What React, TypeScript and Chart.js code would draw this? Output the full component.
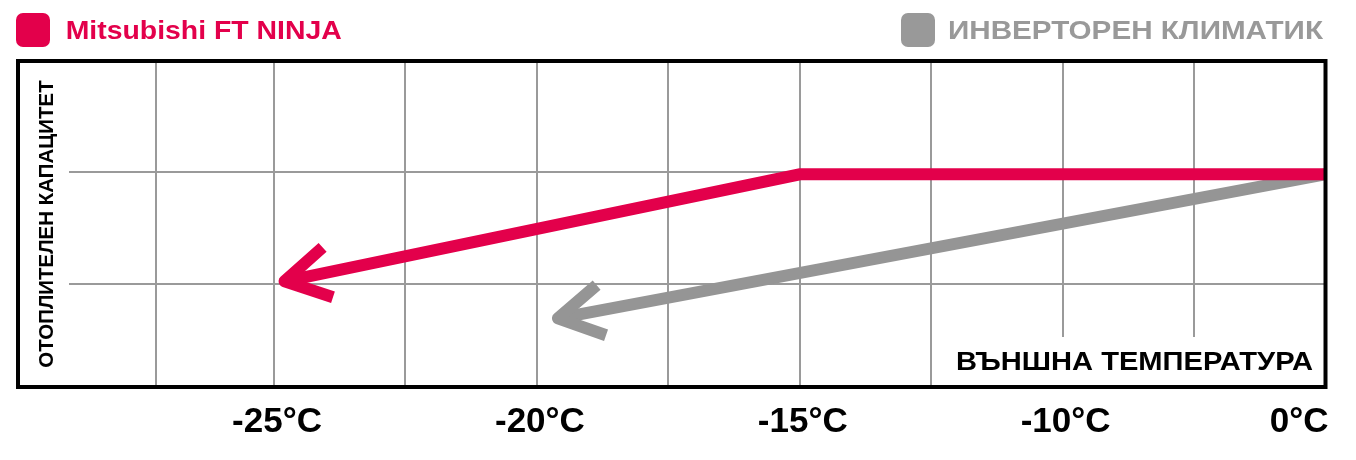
import React, { useEffect, useRef } from 'react';
import { Chart, registerables } from 'chart.js';

Chart.register(...registerables);

// ---- data ----
const SERIES_NAMES = ['Mitsubishi FT NINJA', 'ИНВЕРТОРЕН КЛИМАТИК'];
const MITSUBISHI_TEMPS = [0, -15, -24.8];
const MITSUBISHI_CAPACITY = [99, 99, 51];
const INVERTER_TEMPS = [0, -19.6];
const INVERTER_CAPACITY = [99, 34.4];

const X_TICK_TEMPS = [-25, -20, -15, -10, 0];
const X_TICK_LABELS = ['-25°C', '-20°C', '-15°C', '-10°C', '0°C'];
const X_GRID_TEMPS = [-27.25, -25, -22.5, -20, -17.5, -15, -12.5, -10, -5, 0];
const X_MIN_TEMP = -29.87;
const X_MAX_TEMP = 0;
const Y_GRID = [50, 100];
const Y_MIN = 3.6;
const Y_MAX = 149.8;

const Y_TITLE = 'ОТОПЛИТЕЛЕН КАПАЦИТЕТ';
const X_TITLE = 'ВЪНШНА ТЕМПЕРАТУРА';

const PINK = '#E3004B';
const GRAY = '#959595';
const LEGEND_GRAY = '#999999';
const GRID = '#9a9a9a';
const FONT = "'Liberation Sans', Arial, Helvetica, sans-serif";

// the schematic axis: the -10..0 °C stretch is drawn at half scale
const toAxis = (t: number) => (t >= -10 ? -10 + (t + 10) / 2 : t);

const tickLabel = (v: number) => {
  const i = X_TICK_TEMPS.findIndex((t) => Math.abs(toAxis(t) - v) < 1e-6);
  return i >= 0 ? X_TICK_LABELS[i] : '';
};

// draws text in a bold face widened horizontally to a target width
function drawWide(ctx: any, text: string, x: number, y: number, align: 'left' | 'right', size: number, width: number) {
  ctx.save();
  ctx.font = `bold ${size}px ${FONT}`;
  ctx.textBaseline = 'alphabetic';
  ctx.textAlign = 'left';
  const w = ctx.measureText(text).width;
  const k = width / w;
  const x0 = align === 'left' ? x : x - width;
  ctx.translate(x0, y);
  ctx.scale(k, 1);
  ctx.fillText(text, 0, 0);
  ctx.restore();
}

const decorPlugin = {
  id: 'decor',
  beforeDatasetsDraw(chart: any) {
    const { ctx, chartArea: a } = chart;
    ctx.save();
    ctx.fillStyle = '#fff';
    ctx.fillRect(a.left, a.top, 51, a.bottom - a.top);
    ctx.fillStyle = '#000';
    ctx.font = `bold 20.5px ${FONT}`;
    ctx.textAlign = 'center';
    ctx.textBaseline = 'middle';
    ctx.translate(a.left + 29.5, (a.top + a.bottom) / 2);
    ctx.rotate(-Math.PI / 2);
    ctx.fillText(Y_TITLE, 0, 0);
    ctx.restore();

    ctx.save();
    ctx.fillStyle = '#fff';
    ctx.fillRect(a.right - 380, a.bottom - 50, 380, 50);
    ctx.fillStyle = '#000';
    drawWide(ctx, X_TITLE, a.right - 12.5, a.bottom - 17, 'right', 26, 357);
    ctx.restore();
  },
  afterDatasetsDraw(chart: any) {
    const { ctx, chartArea: a } = chart;
    const n = chart.data.datasets.length;
    for (let i = n - 1; i >= 0; i--) {
      const meta = chart.getDatasetMeta(i);
      const pts = meta.data;
      if (pts.length < 2) continue;
      const tip = pts[pts.length - 1];
      const prev = pts[pts.length - 2];
      const ang = Math.atan2(prev.y - tip.y, prev.x - tip.x);
      const L = 51;
      const th = Math.PI / 6;
      ctx.save();
      ctx.strokeStyle = chart.data.datasets[i].borderColor;
      ctx.lineWidth = 12;
      ctx.lineJoin = 'round';
      ctx.lineCap = 'butt';
      ctx.beginPath();
      ctx.moveTo(tip.x + L * Math.cos(ang - th), tip.y + L * Math.sin(ang - th));
      ctx.lineTo(tip.x, tip.y);
      ctx.lineTo(tip.x + L * Math.cos(ang + th), tip.y + L * Math.sin(ang + th));
      ctx.stroke();
      ctx.restore();
    }
    ctx.save();
    ctx.strokeStyle = '#000';
    ctx.lineWidth = 4;
    ctx.strokeRect(a.left, a.top, a.right - a.left, a.bottom - a.top);
    ctx.restore();
  },
  afterDraw(chart: any) {
    const { ctx } = chart;
    const ds = chart.data.datasets;
    ctx.save();
    ctx.fillStyle = ds[0].borderColor;
    ctx.beginPath();
    ctx.roundRect(8, 5, 34, 34, 7);
    ctx.fill();
    drawWide(ctx, ds[0].label, 57.7, 31.3, 'left', 26, 276);

    const right = 1315;
    const wGray = 375;
    ctx.fillStyle = LEGEND_GRAY;
    ctx.beginPath();
    ctx.roundRect(right - wGray - 13 - 34, 5, 34, 34, 7);
    ctx.fill();
    drawWide(ctx, ds[1].label, right, 31.3, 'right', 26, wGray);
    ctx.restore();
  },
};

export default function App() {
  const ref = useRef<HTMLCanvasElement | null>(null);
  useEffect(() => {
    if (!ref.current) return;
    const chart = new Chart(ref.current, {
      type: 'line',
      data: {
        datasets: [
          {
            label: SERIES_NAMES[0],
            data: MITSUBISHI_TEMPS.map((t, i) => ({ x: toAxis(t), y: MITSUBISHI_CAPACITY[i] })),
            borderColor: PINK,
            backgroundColor: PINK,
            borderWidth: 12,
            pointRadius: 0,
            tension: 0,
            borderJoinStyle: 'miter',
            borderCapStyle: 'butt',
            clip: 0,
          },
          {
            label: SERIES_NAMES[1],
            data: INVERTER_TEMPS.map((t, i) => ({ x: toAxis(t), y: INVERTER_CAPACITY[i] })),
            borderColor: GRAY,
            backgroundColor: GRAY,
            borderWidth: 12,
            pointRadius: 0,
            tension: 0,
            borderJoinStyle: 'miter',
            borderCapStyle: 'butt',
            clip: 0,
          },
        ],
      } as any,
      options: {
        animation: false,
        responsive: true,
        maintainAspectRatio: false,
        devicePixelRatio: 1,
        layout: { padding: { left: 10, right: 22.5, top: 53, bottom: 0 } },
        plugins: { legend: { display: false }, tooltip: { enabled: false } },
        events: [],
        scales: {
          x: {
            type: 'linear',
            min: toAxis(X_MIN_TEMP),
            max: toAxis(X_MAX_TEMP),
            afterBuildTicks: (s: any) => {
              s.ticks = X_GRID_TEMPS.map((t) => ({ value: toAxis(t) }));
            },
            afterFit: (s: any) => {
              s.height = 65;
            },
            grid: { color: GRID, lineWidth: 2, drawTicks: false },
            border: { display: false },
            ticks: {
              autoSkip: false,
              maxRotation: 0,
              minRotation: 0,
              align: 'inner',
              labelOffset: 3,
              padding: 14,
              color: '#000',
              font: { family: FONT, size: 35, weight: 'bold' },
              callback: (v: any) => tickLabel(Number(v)),
            },
          },
          y: {
            type: 'linear',
            min: Y_MIN,
            max: Y_MAX,
            afterBuildTicks: (s: any) => {
              s.ticks = Y_GRID.map((v) => ({ value: v }));
            },
            afterFit: (s: any) => {
              s.width = 0;
            },
            grid: { color: GRID, lineWidth: 2, drawTicks: false },
            border: { display: false },
            ticks: { display: false },
          },
        },
      } as any,
      plugins: [decorPlugin],
    });
    return () => chart.destroy();
  }, []);
  return (
    <div style={{ width: 1340, height: 444, position: 'relative' }}>
      <canvas ref={ref} />
    </div>
  );
}
